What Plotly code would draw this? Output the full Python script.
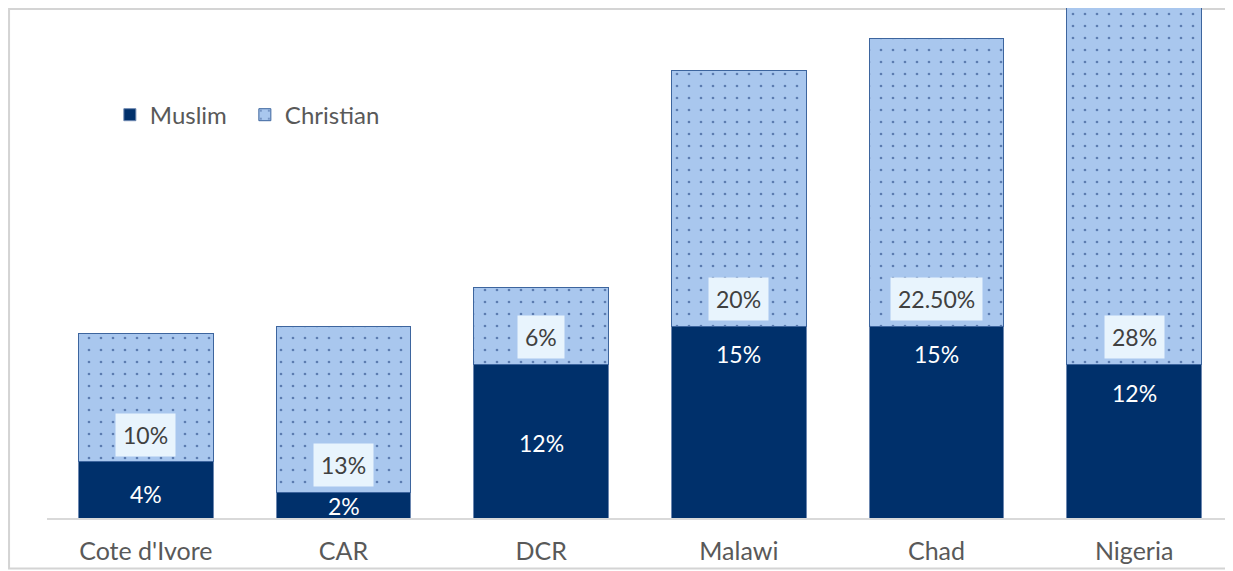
import plotly.graph_objects as go

countries = ["Cote d'Ivore", "CAR", "DCR", "Malawi", "Chad", "Nigeria"]
muslim = [4.4, 2.0, 12.0, 15.0, 15.0, 12.0]
christian = [10.0, 13.0, 6.0, 20.0, 22.5, 28.0]
muslim_labels = ["4%", "2%", "12%", "15%", "15%", "12%"]
christian_labels = ["10%", "13%", "6%", "20%", "22.50%", "28%"]

# label pixel offsets (layout, not data)
muslim_label_shift = [-32, -14, -79, -28, -28, -29]
christian_label_shift = 27

NAVY = "#00306b"
LIGHT = "#a9c7ee"
DOT = "#0f3272"
EDGE = "#3d659e"
FONT = "Lato, 'Open Sans', sans-serif"
GRAY = "#595959"

fig = go.Figure()
fig.add_trace(go.Bar(
    name="Muslim", x=countries, y=muslim,
    marker=dict(color=NAVY, line=dict(color="#6c87b0", width=1)),
    hoverinfo="skip",
))
fig.add_trace(go.Bar(
    name="Christian", x=countries, y=christian,
    marker=dict(color=LIGHT, line=dict(color=EDGE, width=1),
                pattern=dict(shape=".", fgcolor=DOT, bgcolor=LIGHT,
                             size=12, solidity=0.04, fillmode="overlay")),
    hoverinfo="skip",
))

for c, m, lab, sh in zip(countries, muslim, muslim_labels, muslim_label_shift):
    fig.add_annotation(x=c, y=m, yshift=sh, text=lab, showarrow=False,
                       xref="x", yref="y", yanchor="middle",
                       font=dict(family=FONT, size=23, color="white"))

for c, m, lab in zip(countries, muslim, christian_labels):
    fig.add_annotation(x=c, y=m, yshift=christian_label_shift, text=lab, showarrow=False,
                       xref="x", yref="y", yanchor="middle",
                       bgcolor="#e8f4fd", borderpad=7,
                       font=dict(family=FONT, size=23, color="#404040"))

# outer frame (left, top, bottom edges)
fig.add_shape(type="path", xref="paper", yref="paper",
              path="M 1.0,0.998 L -0.032,0.998 L -0.032,-0.099 L 1.0,-0.099",
              line=dict(color="#d4d4d4", width=2), layer="below")

fig.update_layout(
    barmode="stack",
    bargap=0.32,
    width=1225, height=563,
    margin=dict(l=39, r=0, t=0, b=53, autoexpand=False),
    paper_bgcolor="white", plot_bgcolor="white",
    font=dict(family=FONT, size=25, color=GRAY),
    showlegend=True,
    legend=dict(orientation="h", x=0.053, y=0.79, yanchor="middle", xanchor="left",
                font=dict(family=FONT, size=24, color=GRAY),
                bgcolor="rgba(0,0,0,0)", traceorder="normal",
                entrywidth=90, entrywidthmode="pixels"),
    xaxis=dict(showline=True, linecolor="#d9d9d9", linewidth=1.5, ticks="",
               ticklabelstandoff=10,
               tickfont=dict(family=FONT, size=25, color=GRAY), showgrid=False,
               fixedrange=True),
    yaxis=dict(range=[0, 39.85], visible=False, showgrid=False, fixedrange=True),
)

fig.write_html("out.html")
